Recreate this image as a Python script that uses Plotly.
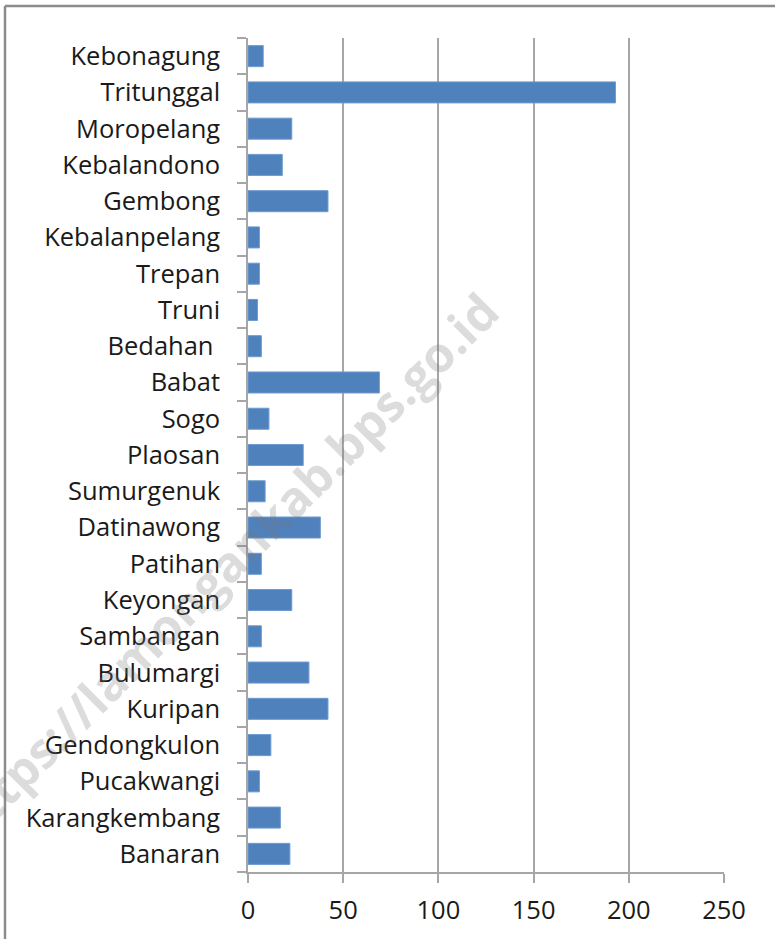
import plotly.graph_objects as go

# data (desa / kelurahan, bottom to top as drawn)
desa = ["Banaran", "Karangkembang", "Pucakwangi", "Gendongkulon", "Kuripan",
        "Bulumargi", "Sambangan", "Keyongan", "Patihan", "Datinawong",
        "Sumurgenuk", "Plaosan", "Sogo", "Babat", "Bedahan ", "Truni",
        "Trepan", "Kebalanpelang", "Gembong", "Kebalandono", "Moropelang",
        "Tritunggal", "Kebonagung"]
jumlah = [22, 17, 6, 12, 42, 32, 7, 23, 7, 38, 9, 29, 11, 69, 7, 5, 6, 6,
          42, 18, 23, 193, 8]
x_ticks = [0, 50, 100, 150, 200, 250]

grey = "#a6a6a6"
font = dict(family="Open Sans, Lato, sans-serif", size=25.5, color="#1a1a1a")

fig = go.Figure()
fig.add_trace(go.Bar(
    y=desa, x=jumlah, orientation="h",
    marker=dict(color="#4f81bd", line=dict(color="#6d9bd0", width=1)),
    hoverinfo="skip",
))

fig.update_layout(
    width=775, height=939,
    margin=dict(l=248, r=51, t=38, b=67, autoexpand=False),
    plot_bgcolor="white", paper_bgcolor="white",
    showlegend=False, bargap=0.42,
    font=font,
    xaxis=dict(range=[0, 250], tickvals=x_ticks, showgrid=True,
               gridcolor=grey, gridwidth=1.5, zeroline=False,
               showline=True, linecolor=grey, linewidth=1.5,
               ticks="outside", ticklen=9, tickcolor=grey, tickwidth=1.5,
               ticklabelstandoff=6, automargin=False, fixedrange=True),
    yaxis=dict(showgrid=False, zeroline=False,
               showline=True, linecolor=grey, linewidth=1.5,
               ticks="outside", ticklen=9, tickcolor=grey, tickwidth=1.5,
               tickson="boundaries", ticklabelstandoff=21,
               automargin=False, fixedrange=True),
)

# outer frame (left + top edge visible in the original)
fig.add_shape(type="line", xref="paper", yref="paper",
              x0=-0.5105, x1=-0.5105, y0=-0.09, y1=1.0384,
              line=dict(color="#8c8c8c", width=2.5))
fig.add_shape(type="line", xref="paper", yref="paper",
              x0=-0.5105, x1=1.12, y0=1.0384, y1=1.0384,
              line=dict(color="#8c8c8c", width=2.5))

# watermark
fig.add_annotation(text="https://lamongankab.bps.go.id", xref="paper",
                   yref="paper", x=-0.667, y=0.366, showarrow=False,
                   textangle=-45,
                   font=dict(family="Open Sans, sans-serif", size=49,
                             color="rgba(120,120,120,0.26)", weight="bold"))

# page has a default 8px body margin; drop it so the figure fills the window
fig.write_html("out.html", config={"displayModeBar": False},
               post_script="document.body.style.margin='0';")
